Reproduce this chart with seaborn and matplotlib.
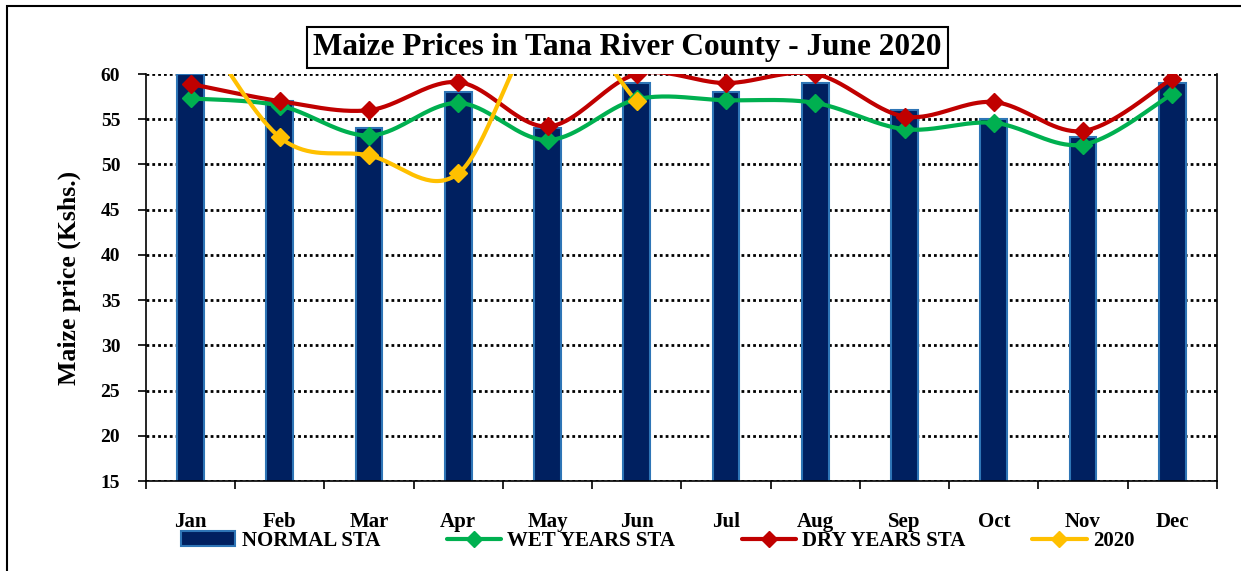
import numpy as np
import pandas as pd
import matplotlib
matplotlib.use("Agg")
import matplotlib.pyplot as plt
import seaborn as sns
from matplotlib.patches import Patch, Rectangle
from matplotlib.lines import Line2D

# ---------------- data ----------------
months = ["Jan", "Feb", "Mar", "Apr", "May", "Jun", "Jul", "Aug", "Sep", "Oct", "Nov", "Dec"]
normal_sta = [60, 57, 54, 58, 54, 59, 58, 59, 56, 55, 53, 59]
wet_years_sta = [57.3, 56.5, 53.2, 56.8, 52.7, 57.2, 57.1, 56.8, 53.9, 54.6, 52.2, 57.8]
dry_years_sta = [58.9, 57.0, 56.0, 59.1, 54.2, 60.0, 59.0, 60.0, 55.3, 56.9, 53.7, 59.5]
prices_2020 = [67, 53, 51, 49, 66, 57]          # Jan-Jun 2020
y_ticks = [15, 20, 25, 30, 35, 40, 45, 50, 55, 60]
title = "Maize Prices in Tana River County - June 2020"
series_labels = ["NORMAL STA", "WET YEARS STA", "DRY YEARS STA", "2020"]

# ---------------- style ----------------
sns.set_style("white")
plt.rcParams["font.family"] = ["Liberation Serif", "DejaVu Serif"]
plt.rcParams["font.weight"] = "bold"
for k in ["text.color", "axes.labelcolor", "xtick.color", "ytick.color"]:
    plt.rcParams[k] = "black"

NAVY = "#002060"
BAR_EDGE = "#2E75B6"
GREEN = "#00B050"
RED = "#C00000"
YELLOW = "#FFC000"


def smooth(xv, yv, n=40):
    """Excel-like smoothed line (cubic Bezier through points)."""
    pts = np.column_stack([xv, yv]).astype(float)
    out = []
    for i in range(len(pts) - 1):
        p0 = pts[i - 1] if i > 0 else pts[i]
        p1, p2 = pts[i], pts[i + 1]
        p3 = pts[i + 2] if i + 2 < len(pts) else pts[i + 1]
        c1 = p1 + (p2 - p0) / 6.0
        c2 = p2 - (p3 - p1) / 6.0
        t = np.linspace(0, 1, n)[:, None]
        seg = (1 - t) ** 3 * p1 + 3 * (1 - t) ** 2 * t * c1 + 3 * (1 - t) * t ** 2 * c2 + t ** 3 * p2
        out.append(seg if i == 0 else seg[1:])
    return np.vstack(out)


fig = plt.figure(figsize=(12.41, 5.71), dpi=100)
ax = fig.add_axes([0.1176, 0.1576, 0.8630, 0.7128])

df = pd.DataFrame({"month": months, "price": normal_sta})
sns.barplot(data=df, x="month", y="price", color=NAVY, edgecolor=BAR_EDGE,
            linewidth=1.5, width=0.3, saturation=1, ax=ax, zorder=2)

line_series = [(wet_years_sta, GREEN), (dry_years_sta, RED), (prices_2020, YELLOW)]
for vals, col in line_series:
    xs = np.arange(len(vals))
    curve = smooth(xs, vals)
    ax.plot(curve[:, 0], curve[:, 1], color=col, lw=3, solid_capstyle="round", zorder=3)
    ax.plot(xs, vals, linestyle="none", marker="D", color=col, ms=9.5, zorder=4)

ax.set_xlim(-0.5, len(months) - 0.5)
ax.set_ylim(15, 60)
ax.set_yticks(y_ticks)
ax.set_xlabel("")
ax.set_ylabel("Maize price (Kshs.)", fontsize=18.5, fontweight="bold", labelpad=14)

ax.yaxis.grid(True, color="black", linestyle=(0, (1, 1.1)), linewidth=2.0, zorder=1)
ax.xaxis.grid(False)
ax.set_axisbelow(True)

for s in ["left", "bottom", "right"]:
    ax.spines[s].set_visible(True)
    ax.spines[s].set_color("black")
    ax.spines[s].set_linewidth(1.2)
ax.spines["top"].set_visible(False)

ax.tick_params(axis="y", direction="out", length=5.5, width=1.2, labelsize=14, pad=13, left=True)
ax.tick_params(axis="x", which="major", length=0, labelsize=15, pad=22)
ax.set_xticks(np.arange(-0.5, len(months), 1), minor=True)
ax.tick_params(axis="x", which="minor", direction="out", length=6, width=1.2, bottom=True)
for lab in ax.get_xticklabels() + ax.get_yticklabels():
    lab.set_fontweight("bold")

# title in a box
fig.text(0.5056, 0.9168, title, ha="center", va="center", fontsize=22.5, fontweight="bold",
         bbox=dict(boxstyle="square,pad=0.2", fc="white", ec="black", lw=1.5))

# outer frame (partially outside the picture)
fig.patches.append(Rectangle((0.0056, -0.5), 2.0, 0.9895 + 0.5, transform=fig.transFigure,
                             fill=False, ec="black", lw=1.5))

handles = [Patch(facecolor=NAVY, edgecolor=BAR_EDGE, linewidth=1.5),
           Line2D([], [], color=GREEN, lw=3, marker="D", ms=8),
           Line2D([], [], color=RED, lw=3, marker="D", ms=8),
           Line2D([], [], color=YELLOW, lw=3, marker="D", ms=8)]
fig.legend(handles, series_labels, loc="center", bbox_to_anchor=(0.53, 0.0525), ncol=4,
           frameon=False, prop={"size": 15, "weight": "bold"}, handlelength=2.6,
           handletextpad=0.3, columnspacing=3.2)

fig.savefig("out.png", dpi=100)
